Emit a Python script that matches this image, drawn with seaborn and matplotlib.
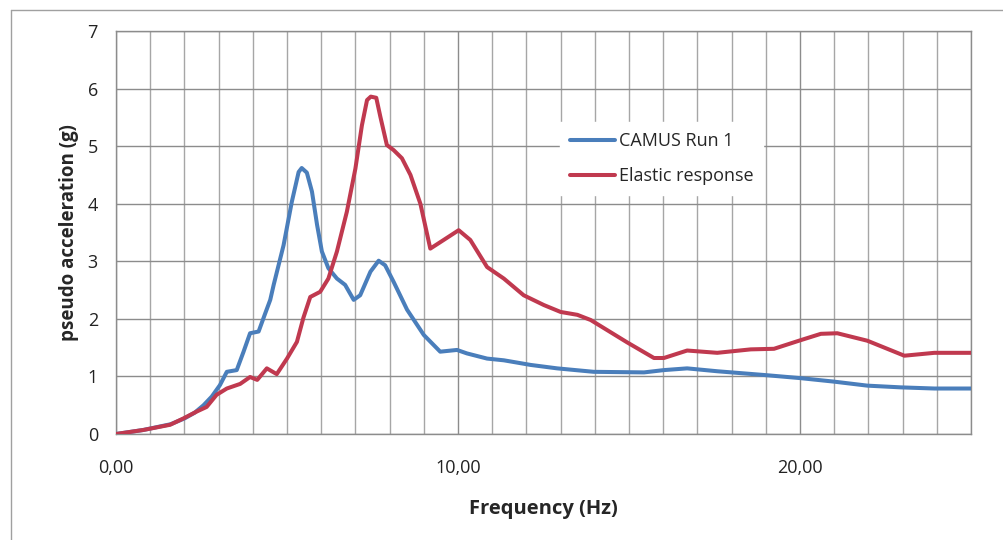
import numpy as np
import pandas as pd
import seaborn as sns
import matplotlib.pyplot as plt
from matplotlib.lines import Line2D
from matplotlib.ticker import MultipleLocator, FuncFormatter

# values
freq_camus = [0, 0.8, 1.6, 2.0, 2.3, 2.56, 2.8, 3.04, 3.24, 3.53, 3.73, 3.92, 4.17, 4.36, 4.51,
              4.61, 4.9, 5.14, 5.34, 5.43, 5.58, 5.73, 5.88, 6.02, 6.21, 6.46, 6.7, 6.95,
              7.14, 7.44, 7.68, 7.87, 8.12, 8.51, 9.0, 9.48, 9.97, 10.26, 10.85, 11.34,
              11.83, 12.12, 12.9, 13.97, 15.44, 16.02, 16.7, 17.58, 19.05, 20.02, 20.99,
              21.97, 22.95, 23.93, 25.0]
acc_camus = [0, 0.07, 0.17, 0.27, 0.37, 0.5, 0.65, 0.85, 1.08, 1.11, 1.43, 1.75, 1.78, 2.09, 2.33,
             2.59, 3.28, 4.03, 4.55, 4.62, 4.54, 4.21, 3.63, 3.17, 2.88, 2.7, 2.59, 2.33,
             2.41, 2.82, 3.01, 2.93, 2.64, 2.16, 1.72, 1.43, 1.46, 1.4, 1.31, 1.28,
             1.23, 1.2, 1.14, 1.08, 1.07, 1.11, 1.14, 1.09, 1.02, 0.97, 0.91,
             0.84, 0.81, 0.79, 0.79]

freq_elastic = [0, 0.8, 1.58, 1.97, 2.36, 2.65, 2.94, 3.24, 3.63, 3.92, 4.13, 4.41, 4.7, 5.0,
                5.29, 5.48, 5.68, 5.97, 6.21, 6.46, 6.75, 7.0, 7.19, 7.34, 7.45, 7.61, 7.73,
                7.92, 8.12, 8.36, 8.61, 8.9, 9.19, 9.58, 10.02, 10.36, 10.85, 11.34, 11.92,
                12.51, 13.0, 13.49, 13.88, 14.95, 15.73, 16.02, 16.7, 17.58, 18.56, 19.24,
                20.02, 20.61, 21.09, 21.97, 23.05, 23.93, 25.0]
acc_elastic = [0, 0.07, 0.16, 0.27, 0.39, 0.47, 0.68, 0.79, 0.87, 0.99, 0.94, 1.14, 1.04, 1.31,
               1.6, 2.02, 2.38, 2.47, 2.7, 3.17, 3.86, 4.61, 5.36, 5.8, 5.86, 5.84, 5.51,
               5.02, 4.93, 4.79, 4.5, 4.0, 3.22, 3.37, 3.54, 3.37, 2.9, 2.7, 2.41,
               2.24, 2.12, 2.07, 1.98, 1.59, 1.32, 1.32, 1.45, 1.41, 1.47, 1.48,
               1.63, 1.74, 1.75, 1.62, 1.36, 1.41, 1.41]

series_names = ['CAMUS Run 1', 'Elastic response']
series_colors = ['#4a7ebb', '#c0394f']

df = pd.concat([
    pd.DataFrame({'freq': freq_camus, 'acc': acc_camus, 'series': series_names[0]}),
    pd.DataFrame({'freq': freq_elastic, 'acc': acc_elastic, 'series': series_names[1]}),
])

sns.set_style('white')
plt.rcParams['font.family'] = ['Open Sans', 'DejaVu Sans']

fig = plt.figure(figsize=(10.04, 5.4), dpi=100)
ax = fig.add_axes([116 / 1004, 1 - 434 / 540, (971 - 116) / 1004, (434 - 31) / 540])

sns.lineplot(data=df, x='freq', y='acc', hue='series', palette=series_colors,
             estimator=None, linewidth=2.9, ax=ax, zorder=3,
             solid_joinstyle='round', solid_capstyle='round')

ax.set_xlim(0, 25)
ax.set_ylim(0, 7)
ax.xaxis.set_major_locator(MultipleLocator(10))
ax.xaxis.set_minor_locator(MultipleLocator(1))
ax.yaxis.set_major_locator(MultipleLocator(1))
ax.xaxis.set_major_formatter(FuncFormatter(lambda v, p: f'{v:.2f}'.replace('.', ',')))

ax.grid(True, which='major', axis='both', color='#8c8c8c', lw=1)
ax.grid(True, which='minor', axis='x', color='#a6a6a6', lw=1)
ax.set_axisbelow(True)
for s in ax.spines.values():
    s.set_color('#8c8c8c')
    s.set_linewidth(1)

ax.tick_params(axis='both', which='major', direction='out', length=6, color='#8c8c8c',
               labelsize=13, labelcolor='#222222')
ax.tick_params(axis='x', which='major', pad=12)
ax.tick_params(axis='x', which='minor', length=0)
ax.tick_params(axis='y', pad=7)

ax.set_xlabel('Frequency (Hz)', fontsize=14.5, fontweight='bold', labelpad=16)
ax.set_ylabel('pseudo acceleration (g)', fontsize=13.5, fontweight='bold', labelpad=6)

leg = ax.legend(loc='upper left', bbox_to_anchor=((560 - 116) / 855, (434 - 122) / 403),
                borderaxespad=0, frameon=True, fontsize=13, handlelength=2.5,
                handletextpad=0.2, labelspacing=0.95, borderpad=0.55, fancybox=False)
leg.get_frame().set_edgecolor('white')
leg.get_frame().set_facecolor('white')
leg.get_frame().set_alpha(1)
leg.set_zorder(5)
for h in leg.get_lines():
    h.set_linewidth(2.9)

# outer chart border (left and top visible)
fig.add_artist(Line2D([11 / 1004, 11 / 1004], [0, 1 - 10 / 540], color='#a0a0a0', lw=1))
fig.add_artist(Line2D([11 / 1004, 1], [1 - 10 / 540, 1 - 10 / 540], color='#a0a0a0', lw=1))

fig.savefig('out.png', dpi=100)
